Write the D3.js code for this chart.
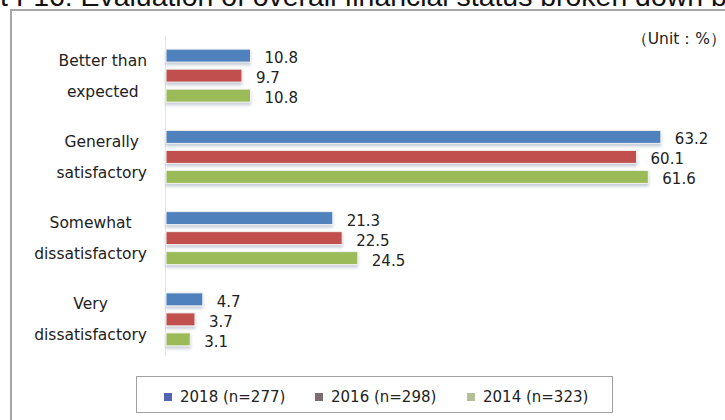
<!DOCTYPE html>
<html>
<head>
<meta charset="utf-8">
<script src="https://cdn.jsdelivr.net/npm/d3@7"></script>
<style>
  body { margin: 0; background: #fff; }
  text { font-family: "DejaVu Sans", sans-serif; fill: #222; }
</style>
</head>
<body>
<div id="chart"></div>
<script>
// Data
let categories = [
  ["Better than", "expected"],
  ["Generally", "satisfactory"],
  ["Somewhat", "dissatisfactory"],
  ["Very", "dissatisfactory"]
];
let seriesNames = ["2018 (n=277)", "2016 (n=298)", "2014 (n=323)"];
let values2018 = [10.8, 63.2, 21.3, 4.7];
let values2016 = [9.7, 60.1, 22.5, 3.7];
let values2014 = [10.8, 61.6, 24.5, 3.1];

let barColors = ["#4f81bd", "#c0504d", "#9bbb59"];
let legendColors = ["#5564b3", "#7d6d6e", "#b3bf98"];

let width = 725;
let height = 420;

let svg = d3
    .select("#chart")
    .append("svg")
    .attr("width", width)
    .attr("height", height);

// drop shadow under bars
let defs = svg.append("defs");
let shadow = defs.append("filter").attr("id", "shadow")
    .attr("x", "-5%").attr("y", "-20%").attr("width", "115%").attr("height", "180%");
shadow.append("feDropShadow")
  .attr("dx", 0).attr("dy", 2.5).attr("stdDeviation", 1.5)
  .attr("flood-color", "#8090a8").attr("flood-opacity", 0.45);

// Title (cut off at the top edge in the reference)
let titleFont = "'Liberation Sans', Arial, sans-serif";
let titleStr = "Chart I-16: Evaluation of overall financial status broken down by region";
let tmp = svg.append("text")
    .style("font-family", titleFont)
    .style("font-size", "24px");
function measure(s) {
  tmp.text(s);
  return tmp.node().getComputedTextLength();
}
// visible part "t I-16: ... down b" fills the 725px width
let scaleF = 727 / measure("t I-16: Evaluation of overall financial status broken down b");
let titleSize = 24 * scaleF;
let prefixW = measure("Char") * scaleF;
tmp.remove();

svg.append("text")
  .attr("x", -prefixW)
  .attr("y", 6)
  .style("font-family", titleFont)
  .style("font-size", titleSize + "px")
  .style("fill", "#111")
  .text(titleStr);

// Outer frame
svg.append("rect")
  .attr("x", 11)
  .attr("y", 10)
  .attr("width", 800)
  .attr("height", 500)
  .attr("fill", "none")
  .attr("stroke", "#a6a6a6")
  .attr("stroke-width", 2);

// Unit note
svg.append("text")
  .attr("x", 726)
  .attr("y", 44)
  .attr("text-anchor", "end")
  .style("font-size", "15.5px")
  .text("（Unit：%）");

// Scales
let x = d3.scaleLinear().domain([0, 70]).range([166, 166 + 70 * 7.83]);
let y0 = d3.scaleBand().domain(d3.range(categories.length)).range([35, 360]);
let y1 = d3.scaleBand().domain(d3.range(seriesNames.length))
    .range([0, 60]).paddingInner(0.35).paddingOuter(0.175);

let allValues = [values2018, values2016, values2014];

// zero line
svg.append("line")
  .attr("x1", x(0) - 0.5).attr("x2", x(0) - 0.5)
  .attr("y1", 36).attr("y2", 356)
  .attr("stroke", "#e3e3e3");

let groups = svg.selectAll("g.group")
    .data(categories)
    .enter()
    .append("g")
    .attr("class", "group")
    .attr("transform", function (d, i) {
      return "translate(0," + (y0(i) + y0.bandwidth() / 2 - 30) + ")";
    });

groups.selectAll("rect")
  .data(function (d, i) {
    return allValues.map(function (s, k) { return { k: k, v: s[i] }; });
  })
  .enter()
  .append("rect")
  .attr("x", x(0))
  .attr("y", function (d) { return y1(d.k); })
  .attr("width", function (d) { return x(d.v) - x(0); })
  .attr("height", y1.bandwidth())
  .attr("fill", function (d) { return barColors[d.k]; })
  .attr("stroke", "#f4f4f4")
  .attr("stroke-width", 1)
  .attr("filter", "url(#shadow)");

groups.selectAll("text.value")
  .data(function (d, i) {
    return allValues.map(function (s, k) { return { k: k, v: s[i] }; });
  })
  .enter()
  .append("text")
  .attr("class", "value")
  .attr("x", function (d) { return x(d.v) + 14; })
  .attr("y", function (d) { return y1(d.k) + y1.bandwidth() / 2; })
  .attr("dy", "0.5em")
  .style("font-size", "15px")
  .text(function (d) { return d3.format(".1f")(d.v); });

// Category labels: centred lines, block right-aligned
groups.each(function (lines) {
  let g = d3.select(this);
  let t = g.selectAll("text.cat")
      .data(lines)
      .enter()
      .append("text")
      .attr("class", "cat")
      .attr("text-anchor", "middle")
      .attr("y", function (d, j) { return 30 + (j === 0 ? -15.5 : 15.5); })
      .attr("dy", "0.35em")
      .style("font-size", "15.5px")
      .text(function (d) { return d; });
  let maxW = d3.max(t.nodes(), function (n) { return n.getComputedTextLength(); });
  t.attr("x", 147 - maxW / 2);
});

// Legend
svg.append("rect")
  .attr("x", 136.5)
  .attr("y", 376.5)
  .attr("width", 476)
  .attr("height", 36)
  .attr("fill", "#fff")
  .attr("stroke", "#a0a0a0");

let legendX = [164, 315, 467];
let legend = svg.selectAll("g.legend")
    .data(seriesNames)
    .enter()
    .append("g")
    .attr("class", "legend")
    .attr("transform", function (d, i) { return "translate(" + legendX[i] + ",0)"; });

legend.append("rect")
  .attr("x", 0).attr("y", 393)
  .attr("width", 8).attr("height", 8)
  .attr("fill", function (d, i) { return legendColors[i]; });

legend.append("text")
  .attr("x", 16)
  .attr("y", 397)
  .attr("dy", "0.35em")
  .style("font-size", "15px")
  .text(function (d) { return d; });
</script>
</body>
</html>
